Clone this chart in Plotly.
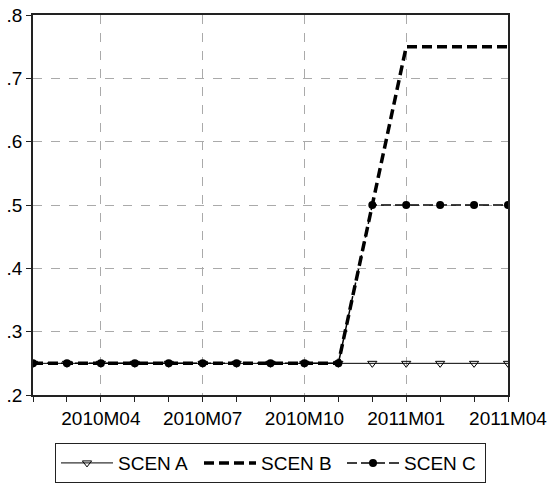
import plotly.graph_objects as go

# monthly periods shown on the chart
periods = ["2010M02", "2010M03", "2010M04", "2010M05", "2010M06", "2010M07",
           "2010M08", "2010M09", "2010M10", "2010M11", "2010M12", "2011M01",
           "2011M02", "2011M03", "2011M04"]
scen_a = [0.25] * 15
scen_b = [0.25, 0.25, 0.25, 0.25, 0.25, 0.25, 0.25, 0.25, 0.25, 0.25, 0.50, 0.75, 0.75, 0.75, 0.75]
scen_c = [0.25, 0.25, 0.25, 0.25, 0.25, 0.25, 0.25, 0.25, 0.25, 0.25, 0.50, 0.50, 0.50, 0.50, 0.50]
tick_labels = ["2010M04", "2010M07", "2010M10", "2011M01", "2011M04"]
y_ticks = [0.2, 0.3, 0.4, 0.5, 0.6, 0.7, 0.8]
y_labels = [".2", ".3", ".4", ".5", ".6", ".7", ".8"]

x = list(range(len(periods)))
tick_pos = [periods.index(t) for t in tick_labels]

fig = go.Figure()

fig.add_trace(go.Scatter(
    x=x, y=scen_a, name="SCEN A", mode="lines+markers",
    line=dict(color="black", width=1),
    marker=dict(symbol="triangle-down-open", size=8, color="black", line=dict(width=1))))

fig.add_trace(go.Scatter(
    x=x, y=scen_b, name="SCEN B", mode="lines",
    line=dict(color="black", width=3.5, dash="10px,5px")))

fig.add_trace(go.Scatter(
    x=x, y=scen_c, name="SCEN C", mode="lines+markers",
    line=dict(color="black", width=1.5, dash="10px,4px"),
    marker=dict(symbol="circle", size=8, color="black")))

axis_common = dict(
    showline=True, linecolor="#222", linewidth=1.5, mirror=True,
    gridcolor="#aaa", griddash="dash", gridwidth=1,
    ticks="outside", ticklen=5, tickcolor="#222", tickwidth=1.2,
    zeroline=False, automargin=False, ticklabeloverflow="allow",
)

fig.update_xaxes(
    range=[0, len(periods) - 1], tickmode="array", tickvals=tick_pos, ticktext=tick_labels,
    minor=dict(ticks="outside", ticklen=5, tickcolor="#222", tickwidth=1.2, dtick=1, tick0=0, showgrid=False),
    **axis_common)
fig.update_yaxes(
    range=[0.2, 0.8], tickmode="array", tickvals=y_ticks, ticktext=y_labels,
    **axis_common)

fig.update_layout(
    width=550, height=485,
    margin=dict(l=33, r=42, t=15, b=90),
    plot_bgcolor="white", paper_bgcolor="white",
    font=dict(family="Arial, Liberation Sans, sans-serif", size=19, color="black"),
    showlegend=True,
    legend=dict(orientation="h", x=0.5, xanchor="center", xref="paper",
                y=0.004, yanchor="bottom", yref="container",
                bordercolor="#222", borderwidth=1, itemwidth=52,
                entrywidth=76, entrywidthmode="pixels",
                font=dict(size=19)),
)

# drop the default 8px page margin so the figure sits at the window's corner
fig.write_html("out.html", config={"displayModeBar": False},
               post_script="document.body.style.margin='0';")
